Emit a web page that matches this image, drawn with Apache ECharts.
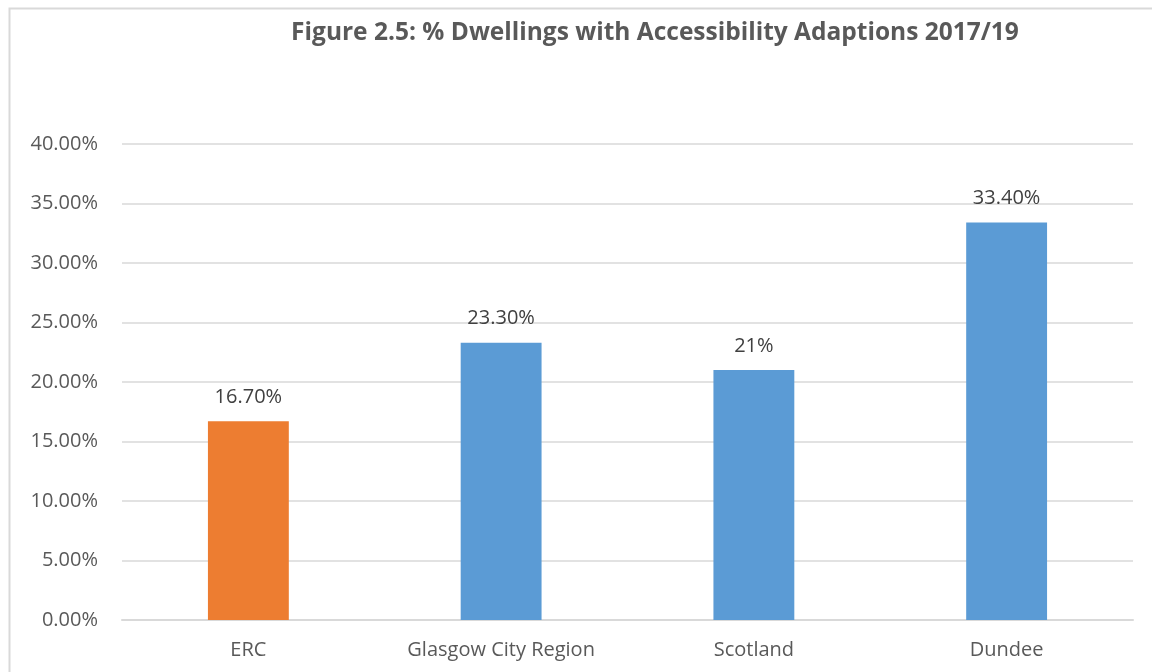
<!DOCTYPE html>
<html>
<head>
<meta charset="utf-8">
<title>Figure 2.5</title>
<script src="https://cdn.jsdelivr.net/npm/echarts@6/dist/echarts.min.js"></script>
<style>
  html, body { margin: 0; padding: 0; background: #fff; }
  #chart { width: 1152px; height: 672px; }
</style>
</head>
<body>
<div id="chart"></div>
<script>
var categories = ['ERC', 'Glasgow City Region', 'Scotland', 'Dundee'];
var values = [16.7, 23.3, 21, 33.4];
var valueLabels = ['16.70%', '23.30%', '21%', '33.40%'];
var barColors = ['#ED7D31', '#5B9BD5', '#5B9BD5', '#5B9BD5'];

var chart = echarts.init(document.getElementById('chart'));

var FONT = 'Open Sans, Liberation Sans, sans-serif';

chart.setOption({
    animation: false,
    title: {
        text: 'Figure 2.5: % Dwellings with Accessibility Adaptions 2017/19',
        left: 650,
        top: 16,
        textAlign: 'center',
        textStyle: { fontFamily: FONT, fontSize: 24.5, fontWeight: 'bold', color: '#595959' }
    },
    graphic: [{
        type: 'rect',
        shape: { x: 9.5, y: 8.5, width: 1200, height: 700 },
        style: { fill: 'none', stroke: '#D9D9D9', lineWidth: 2 },
        silent: true
    }],
    grid: { left: 122, right: 19, top: 144, bottom: 52 },
    xAxis: {
        type: 'category',
        data: categories,
        axisLine: { lineStyle: { color: '#D9D9D9', width: 2 } },
        axisTick: { show: false },
        axisLabel: { color: '#595959', fontFamily: FONT, fontSize: 20, margin: 20 }
    },
    yAxis: {
        type: 'value',
        min: 0,
        max: 40,
        interval: 5,
        axisLine: { show: false },
        axisTick: { show: false },
        splitLine: { lineStyle: { color: '#D9D9D9', width: 1.5 } },
        axisLabel: {
            color: '#595959', fontFamily: FONT, fontSize: 20, margin: 24,
            formatter: function (v) { return v.toFixed(2) + '%'; }
        }
    },
    series: [{
        type: 'bar',
        barWidth: '32%',
        data: values.map(function (v, i) {
            return { value: v, itemStyle: { color: barColors[i] } };
        }),
        label: {
            show: true,
            position: 'top',
            distance: 14,
            color: '#404040',
            fontFamily: FONT,
            fontSize: 20,
            formatter: function (p) { return valueLabels[p.dataIndex]; }
        }
    }]
});
</script>
</body>
</html>
